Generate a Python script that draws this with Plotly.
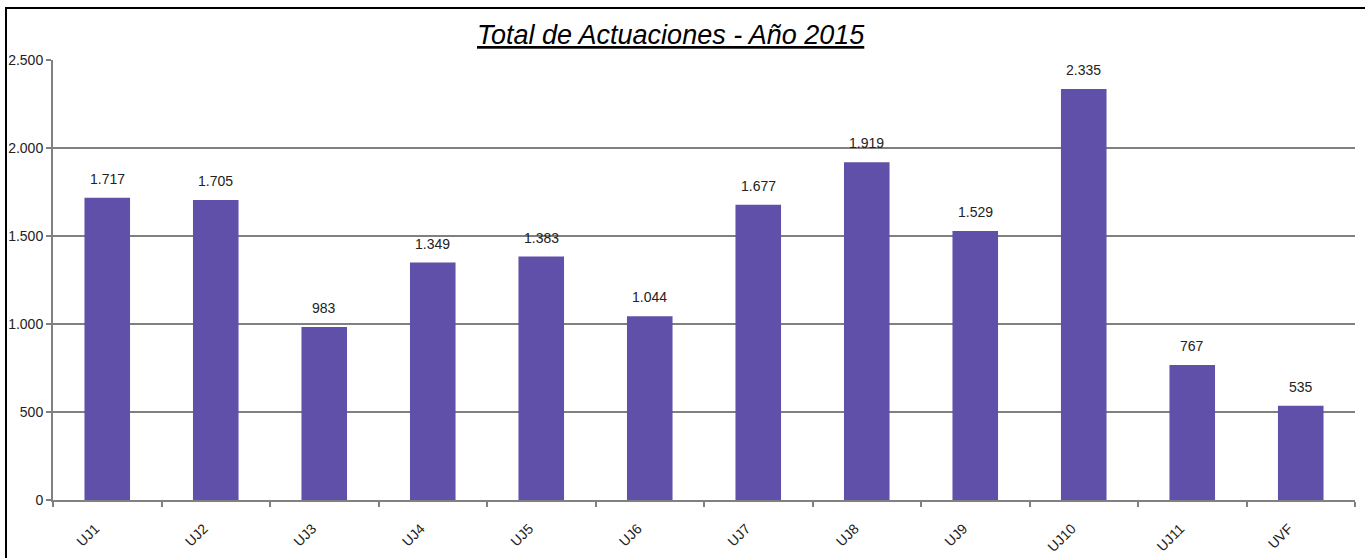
import plotly.graph_objects as go

categories = ["UJ1", "UJ2", "UJ3", "UJ4", "UJ5", "UJ6", "UJ7", "UJ8", "UJ9", "UJ10", "UJ11", "UVF"]
values = [1717, 1705, 983, 1349, 1383, 1044, 1677, 1919, 1529, 2335, 767, 535]
title_text = "Total de Actuaciones - Año 2015"

FONT = "Liberation Sans, Arial"

def fmt(v):
    return f"{v:,}".replace(",", ".")

fig = go.Figure()
fig.add_trace(go.Bar(
    x=categories, y=values,
    marker=dict(color="#6150AA", line=dict(width=0)),
    width=0.42,
    hoverinfo="x+y",
))

for c, v in zip(categories, values):
    fig.add_annotation(x=c, y=v, text=fmt(v), showarrow=False, yanchor="bottom",
                       yshift=9, font=dict(family=FONT, size=14, color="#222"))

fig.add_annotation(xref="paper", yref="paper", x=(671 - 53) / 1302, y=(500 - 35) / 440,
                   text="<i><u>" + title_text + "</u></i>", showarrow=False,
                   xanchor="center", yanchor="middle",
                   font=dict(family=FONT, size=27, color="#000"))

# outer border
fig.add_shape(type="rect", xref="paper", yref="paper",
              x0=(6 - 53) / 1302, x1=(1366 - 53) / 1302,
              y0=(500 - 560) / 440, y1=(500 - 8) / 440,
              line=dict(color="#000", width=2), layer="below")

fig.update_layout(
    width=1365, height=558,
    margin=dict(l=53, r=10, t=60, b=58, autoexpand=False),
    paper_bgcolor="white", plot_bgcolor="white",
    separators=",.",
    showlegend=False,
    font=dict(family=FONT, size=13, color="#222"),
)
fig.update_yaxes(range=[0, 2500], dtick=500, tickformat=",d", automargin=False,
                 showgrid=True, gridcolor="#808080", gridwidth=2,
                 showline=True, linecolor="#808080", linewidth=2,
                 ticks="outside", ticklen=5, tickcolor="#808080", tickwidth=2,
                 zeroline=False, tickfont=dict(family=FONT, size=14, color="#222"))
fig.update_xaxes(tickson="boundaries", ticks="outside", ticklen=5, tickcolor="#808080", tickwidth=2,
                 showline=True, linecolor="#808080", linewidth=2, showgrid=False, automargin=False,
                 tickangle=-45, ticklabelstandoff=13, ticklabelshift=-12,
                 tickfont=dict(family=FONT, size=14, color="#222"))

fig.write_html("out.html", config={"displayModeBar": False},
               post_script="document.body.style.margin='0';")
